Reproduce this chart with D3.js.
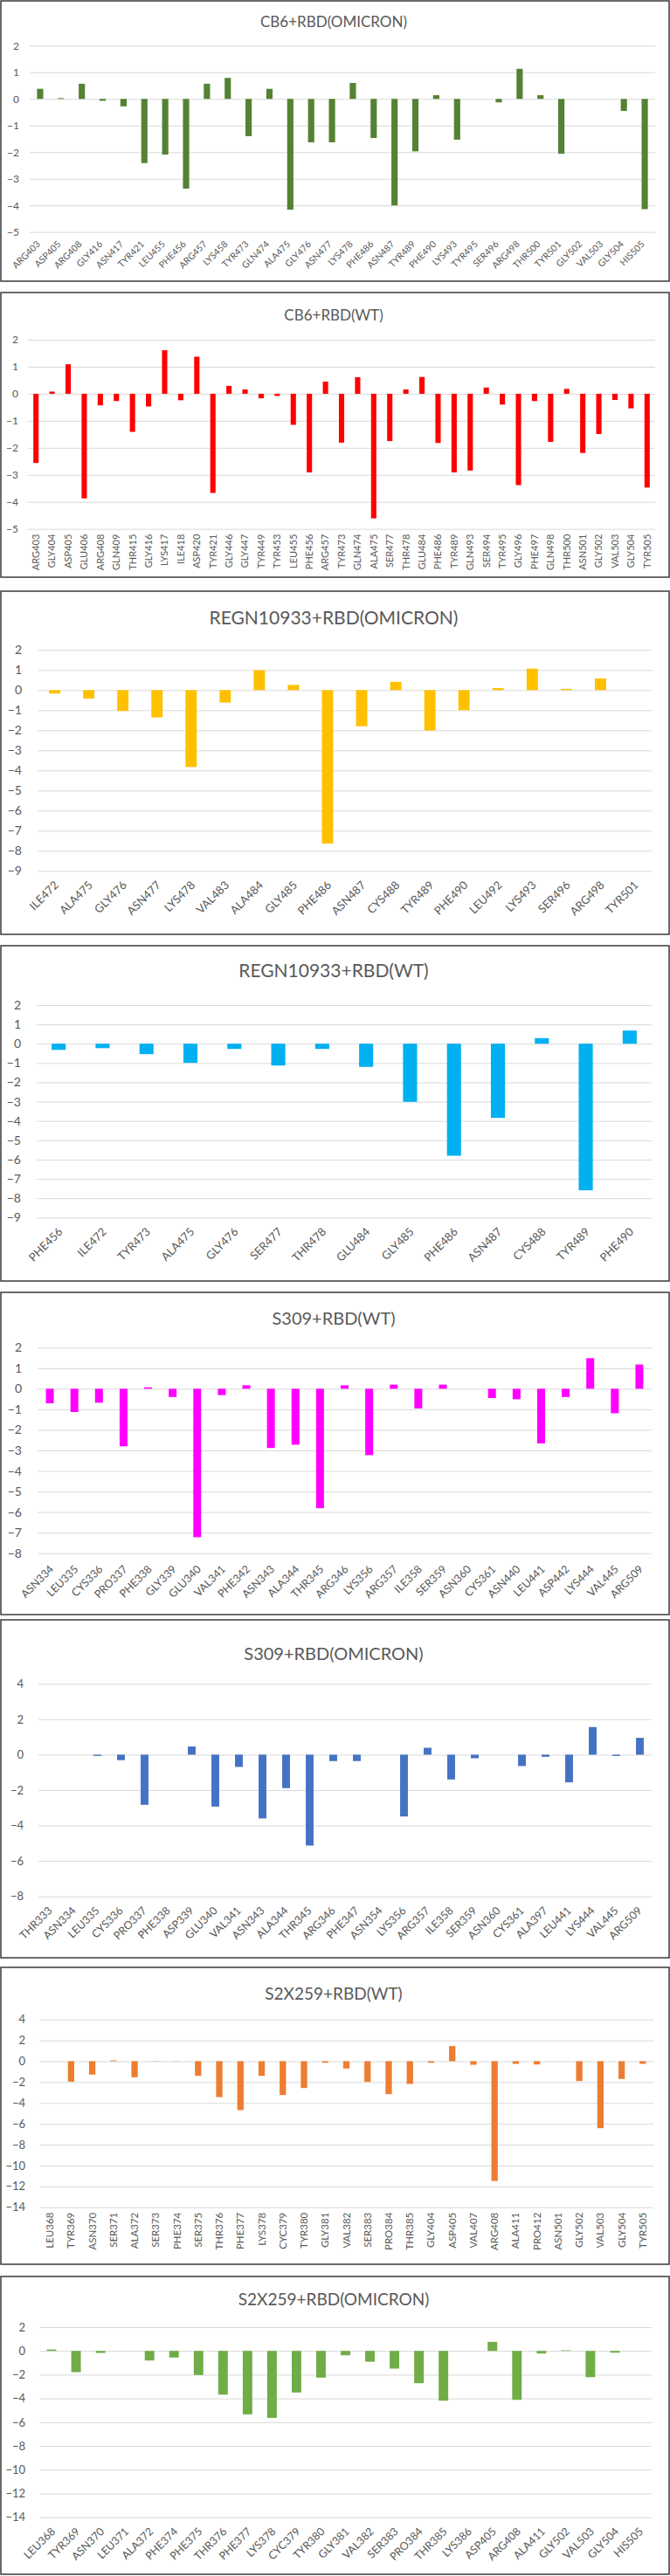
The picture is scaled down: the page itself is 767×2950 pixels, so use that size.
<!DOCTYPE html>
<html>
<head>
<meta charset="utf-8">
<script src="https://cdn.jsdelivr.net/npm/d3@7"></script>
<style>
body { margin: 0; background: #fff; }
svg text { font-family: Lato, "Open Sans", sans-serif; }
</style>
</head>
<body>
<div id="main"></div>
<script>
const ctx = { w: 767, h: 2950 };

//==============================================================================================
// data (binding energy contribution per residue)

const cb6OmiResidues = ["ARG403","ASP405","ARG408","GLY416","ASN417","TYR421","LEU455","PHE456","ARG457","LYS458",
    "TYR473","GLN474","ALA475","GLY476","ASN477","LYS478","PHE486","ASN487","TYR489","PHE490",
    "LYS493","TYR495","SER496","ARG498","THR500","TYR501","GLY502","VAL503","GLY504","HIS505"];
const cb6OmiValues = [0.38, 0.03, 0.57, -0.07, -0.28, -2.41, -2.09, -3.37, 0.57, 0.79,
    -1.40, 0.38, -4.16, -1.63, -1.63, 0.60, -1.47, -4.00, -1.97, 0.14,
    -1.53, 0, -0.13, 1.13, 0.14, -2.06, 0, 0, -0.45, -4.14];

const cb6WtResidues = ["ARG403","GLY404","ASP405","GLU406","ARG408","GLN409","THR415","GLY416","LYS417","ILE418",
    "ASP420","TYR421","GLY446","GLY447","TYR449","TYR453","LEU455","PHE456","ARG457","TYR473",
    "GLN474","ALA475","SER477","THR478","GLU484","PHE486","TYR489","GLN493","SER494","TYR495",
    "GLY496","PHE497","GLN498","THR500","ASN501","GLY502","VAL503","GLY504","TYR505"];
const cb6WtValues = [-2.56, 0.08, 1.09, -3.87, -0.43, -0.27, -1.41, -0.47, 1.61, -0.24,
    1.37, -3.67, 0.29, 0.16, -0.17, -0.08, -1.15, -2.91, 0.45, -1.81,
    0.61, -4.61, -1.75, 0.16, 0.62, -1.82, -2.91, -2.84, 0.23, -0.40,
    -3.38, -0.27, -1.78, 0.18, -2.19, -1.49, -0.23, -0.54, -3.47];

const regnOmiResidues = ["ILE472","ALA475","GLY476","ASN477","LYS478","VAL483","ALA484","GLY485","PHE486","ASN487",
    "CYS488","TYR489","PHE490","LEU492","LYS493","SER496","ARG498","TYR501"];
const regnOmiValues = [-0.17, -0.42, -1.04, -1.36, -3.83, -0.62, 0.99, 0.26, -7.64, -1.80,
    0.41, -2.01, -1.00, 0.10, 1.07, 0.06, 0.58, 0];

const regnWtResidues = ["PHE456","ILE472","TYR473","ALA475","GLY476","SER477","THR478","GLU484","GLY485","PHE486",
    "ASN487","CYS488","TYR489","PHE490"];
const regnWtValues = [-0.32, -0.23, -0.54, -0.99, -0.27, -1.13, -0.27, -1.20, -3.01, -5.80,
    -3.84, 0.29, -7.59, 0.68];

const s309WtResidues = ["ASN334","LEU335","CYS336","PRO337","PHE338","GLY339","GLU340","VAL341","PHE342","ASN343",
    "ALA344","THR345","ARG346","LYS356","ARG357","ILE358","SER359","ASN360","CYS361","ASN440",
    "LEU441","ASP442","LYS444","VAL445","ARG509"];
const s309WtValues = [-0.71, -1.13, -0.68, -2.80, 0.07, -0.40, -7.22, -0.31, 0.17, -2.88,
    -2.72, -5.81, 0.17, -3.23, 0.20, -0.96, 0.20, 0, -0.45, -0.51,
    -2.66, -0.40, 1.49, -1.19, 1.18];

const s309OmiResidues = ["THR333","ASN334","LEU335","CYS336","PRO337","PHE338","ASP339","GLU340","VAL341","ASN343",
    "ALA344","THR345","ARG346","PHE347","ASN354","LYS356","ARG357","ILE358","SER359","ASN360",
    "CYS361","ALA397","LEU441","LYS444","VAL445","ARG509"];
const s309OmiValues = [0, 0, -0.07, -0.31, -2.83, 0, 0.46, -2.93, -0.69, -3.60,
    -1.89, -5.13, -0.36, -0.36, 0, -3.49, 0.39, -1.40, -0.20, 0,
    -0.64, -0.12, -1.56, 1.56, -0.07, 0.95];

const s2xWtResidues = ["LEU368","TYR369","ASN370","SER371","ALA372","SER373","PHE374","SER375","THR376","PHE377",
    "LYS378","CYC379","TYR380","GLY381","VAL382","SER383","PRO384","THR385","GLY404","ASP405",
    "VAL407","ARG408","ALA411","PRO412","ASN501","GLY502","VAL503","GLY504","TYR505"];
const s2xWtValues = [0, -1.96, -1.28, 0.08, -1.54, -0.02, -0.02, -1.40, -3.44, -4.69,
    -1.40, -3.24, -2.57, -0.14, -0.70, -1.98, -3.16, -2.18, -0.14, 1.45,
    -0.34, -11.48, -0.25, -0.31, 0, -1.90, -6.42, -1.70, -0.25];

const s2xOmiResidues = ["LEU368","TYR369","ASN370","LEU371","ALA372","PHE374","PHE375","THR376","PHE377","LYS378",
    "CYC379","TYR380","GLY381","VAL382","SER383","PRO384","THR385","LYS386","ASP405","ARG408",
    "ALA411","GLY502","VAL503","GLY504","HIS505"];
const s2xOmiValues = [0.12, -1.79, -0.17, 0, -0.81, -0.56, -2.03, -3.68, -5.34, -5.64,
    -3.50, -2.25, -0.37, -0.91, -1.49, -2.72, -4.19, 0, 0.76, -4.12,
    -0.22, 0.05, -2.21, -0.15, 0];

//==============================================================================================
// panels, top to bottom

const panels = [
    { title: "CB6+RBD(OMICRON)", names: cb6OmiResidues, vals: cb6OmiValues, color: "#548235",
      frame: [1, 322], titleY: 25, titleSize: 17, x0: 34, x1: 750, yTop: 52.3, yBot: 265.7,
      dom: [-5, 2], step: 1, tickRight: 22, tickSize: 12, labSize: 10.5, vertical: false, pad: 0.7, labDx: -2, labDy: 12 },
    { title: "CB6+RBD(WT)", names: cb6WtResidues, vals: cb6WtValues, color: "#ff0000",
      frame: [335, 661], titleY: 361, titleSize: 17, x0: 32, x1: 750, yTop: 389, yBot: 605.7,
      dom: [-5, 2], step: 1, tickRight: 21, tickSize: 12, labSize: 11, vertical: true, pad: 0.67 },
    { title: "REGN10933+RBD(OMICRON)", names: regnOmiResidues, vals: regnOmiValues, color: "#ffc000",
      frame: [677, 1070], titleY: 708, titleSize: 21, x0: 43, x1: 746, yTop: 744.3, yBot: 997.3,
      dom: [-9, 2], step: 1, tickRight: 25, tickSize: 14, labSize: 13, vertical: false, pad: 0.67, labDx: 2, labDy: 14 },
    { title: "REGN10933+RBD(WT)", names: regnWtResidues, vals: regnWtValues, color: "#00b0f0",
      frame: [1083, 1467], titleY: 1112, titleSize: 21, x0: 42, x1: 746, yTop: 1151, yBot: 1394.3,
      dom: [-9, 2], step: 1, tickRight: 24, tickSize: 14, labSize: 13, vertical: false, pad: 0.68, labDx: 2, labDy: 14 },
    { title: "S309+RBD(WT)", names: s309WtResidues, vals: s309WtValues, color: "#ff00ff",
      frame: [1480, 1849], titleY: 1510, titleSize: 20, x0: 43, x1: 746, yTop: 1543.3, yBot: 1778.7,
      dom: [-8, 2], step: 1, tickRight: 25, tickSize: 14, labSize: 12.5, vertical: false, pad: 0.68, labDx: 2, labDy: 16 },
    { title: "S309+RBD(OMICRON)", names: s309OmiResidues, vals: s309OmiValues, color: "#4472c4",
      frame: [1855, 2242], titleY: 1894, titleSize: 20, x0: 44, x1: 746, yTop: 1928.3, yBot: 2171.7,
      dom: [-8, 4], step: 2, tickRight: 27, tickSize: 13, labSize: 12.5, vertical: false, pad: 0.67, labDx: 0, labDy: 14 },
    { title: "S2X259+RBD(WT)", names: s2xWtResidues, vals: s2xWtValues, color: "#ed7d31",
      frame: [2253, 2593], titleY: 2283, titleSize: 19, x0: 45, x1: 748, yTop: 2312.7, yBot: 2527.7,
      dom: [-14, 4], step: 2, tickRight: 29, tickSize: 13, labSize: 11.5, vertical: true, pad: 0.7, labFont: "Liberation Sans" },
    { title: "S2X259+RBD(OMICRON)", names: s2xOmiResidues, vals: s2xOmiValues, color: "#70ad47",
      frame: [2607, 2948], titleY: 2633, titleSize: 19, x0: 45, x1: 746, yTop: 2665, yBot: 2882.7,
      dom: [-14, 2], step: 2, tickRight: 29, tickSize: 13, labSize: 12.5, vertical: false, pad: 0.61, labDx: 2, labDy: 14 }
];

//==============================================================================================
function drawPanel(svg, p) {
    const g = svg.append("g");

    g.append("rect")
        .attr("x", 1)
        .attr("y", p.frame[0])
        .attr("width", ctx.w - 2)
        .attr("height", p.frame[1] - p.frame[0])
        .attr("fill", "#fff")
        .attr("stroke", "#3a3a3a")
        .attr("stroke-width", 1.5);

    g.append("text")
        .attr("x", 382)
        .attr("y", p.titleY)
        .attr("dy", "0.35em")
        .attr("text-anchor", "middle")
        .attr("font-size", p.titleSize)
        .attr("fill", "#595959")
        .text(p.title);

    const x = d3.scaleBand()
        .domain(p.names)
        .range([p.x0, p.x1])
        .paddingInner(p.pad)
        .paddingOuter(p.pad / 2);

    const y = d3.scaleLinear()
        .domain(p.dom)
        .range([p.yBot, p.yTop]);

    // grid + y labels
    const yAxis = d3.axisLeft(y)
        .tickValues(d3.range(p.dom[0], p.dom[1] + p.step / 2, p.step))
        .tickSize(-(p.x1 - p.x0))
        .tickPadding(p.x0 - p.tickRight)
        .tickFormat(d3.format("d"));

    const ya = g.append("g")
        .attr("transform", `translate(${p.x0},0)`)
        .call(yAxis);
    ya.select(".domain").remove();
    ya.selectAll("line").attr("stroke", "#d9d9d9").attr("stroke-width", 1);
    ya.selectAll("text")
        .attr("fill", "#595959")
        .attr("font-size", p.tickSize)
        .attr("font-family", "Lato, sans-serif");

    // bars
    g.append("g")
        .selectAll("rect")
        .data(p.names.map((n, i) => ({ name: n, v: p.vals[i] })))
        .enter().append("rect")
        .attr("x", d => x(d.name))
        .attr("y", d => y(Math.max(0, d.v)))
        .attr("width", x.bandwidth())
        .attr("height", d => Math.abs(y(d.v) - y(0)))
        .attr("fill", p.color);

    // category labels
    const cx = d => x(d) + x.bandwidth() / 2;
    const labs = g.append("g")
        .selectAll("text")
        .data(p.names)
        .enter().append("text")
        .attr("text-anchor", "end")
        .attr("dy", "0.35em")
        .attr("font-size", p.labSize)
        .attr("fill", "#595959")
        .text(d => d);

    if (p.labFont) labs.attr("font-family", p.labFont);

    if (p.vertical) {
        labs.attr("transform", d => `translate(${cx(d)},${p.yBot + 6}) rotate(-90)`);
    } else {
        labs.attr("transform", d => `translate(${cx(d) + p.labDx},${p.yBot + p.labDy}) rotate(-45)`);
    }
}

function createViz() {
    const svg = d3.select("#main").append("svg")
        .attr("width", ctx.w)
        .attr("height", ctx.h)
        .style("display", "block");

    svg.append("rect").attr("width", ctx.w).attr("height", ctx.h).attr("fill", "#fff");

    panels.forEach(p => drawPanel(svg, p));
}

createViz();
</script>
</body>
</html>
